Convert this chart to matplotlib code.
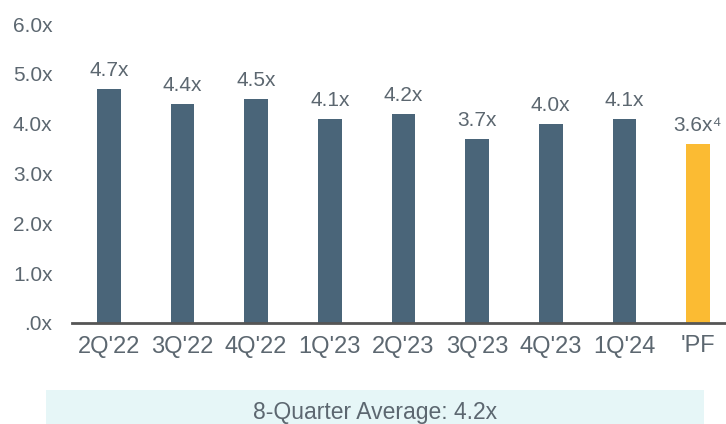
import matplotlib
matplotlib.use("Agg")
import matplotlib.pyplot as plt
from matplotlib.patches import Rectangle

categories = ["2Q'22", "3Q'22", "4Q'22", "1Q'23", "2Q'23", "3Q'23", "4Q'23", "1Q'24", "'PF"]
values = [4.7, 4.4, 4.5, 4.1, 4.2, 3.7, 4.0, 4.1, 3.6]
value_labels = ["4.7x", "4.4x", "4.5x", "4.1x", "4.2x", "3.7x", "4.0x", "4.1x", "3.6x\u2074"]
y_ticks = [0, 1, 2, 3, 4, 5, 6]
y_tick_labels = [".0x", "1.0x", "2.0x", "3.0x", "4.0x", "5.0x", "6.0x"]
banner_text = "8-Quarter Average: 4.2x"

plt.rcParams['font.family'] = ['Liberation Sans', 'DejaVu Sans']

bar_blue = "#4a6579"
bar_gold = "#fbbb33"
text_col = "#5c6770"

fig = plt.figure(figsize=(7.26, 4.24), dpi=100)
ax = fig.add_axes([72/726, 1 - 323/424, 1 - 72/726, (323 - 24)/424])

x = list(range(len(categories)))
colors = [bar_blue] * (len(categories) - 1) + [bar_gold]
bars = ax.bar(x, values, width=0.32, color=colors, zorder=2)

for xi, v, lab in zip(x, values, value_labels):
    ax.annotate(lab, (xi, v), xytext=(0, 6), textcoords="offset points",
                ha="center", va="bottom", fontsize=15, color=text_col)

ax.set_xlim(-0.5, 8.38)
ax.set_ylim(0, 6)
ax.set_yticks(y_ticks)
ax.set_yticklabels(y_tick_labels)
ax.set_xticks(x)
ax.set_xticklabels(categories)
ax.tick_params(axis='y', length=0, pad=14, labelsize=15, labelcolor=text_col)
ax.tick_params(axis='x', length=0, pad=9, labelsize=17, labelcolor=text_col)
for s in ["top", "right", "left"]:
    ax.spines[s].set_visible(False)
ax.spines["bottom"].set_color("#555555")
ax.spines["bottom"].set_linewidth(2)
ax.spines["bottom"].set_zorder(3)

rect = Rectangle((46/726, 0), (704-46)/726, (424-390)/424, transform=fig.transFigure,
                 facecolor="#e6f6f7", edgecolor="none", zorder=0)
fig.patches.append(rect)
fig.text(375/726, 1 - 412/424, banner_text, ha="center", va="center",
         fontsize=16.5, color=text_col)

fig.savefig("out.png", dpi=100)
